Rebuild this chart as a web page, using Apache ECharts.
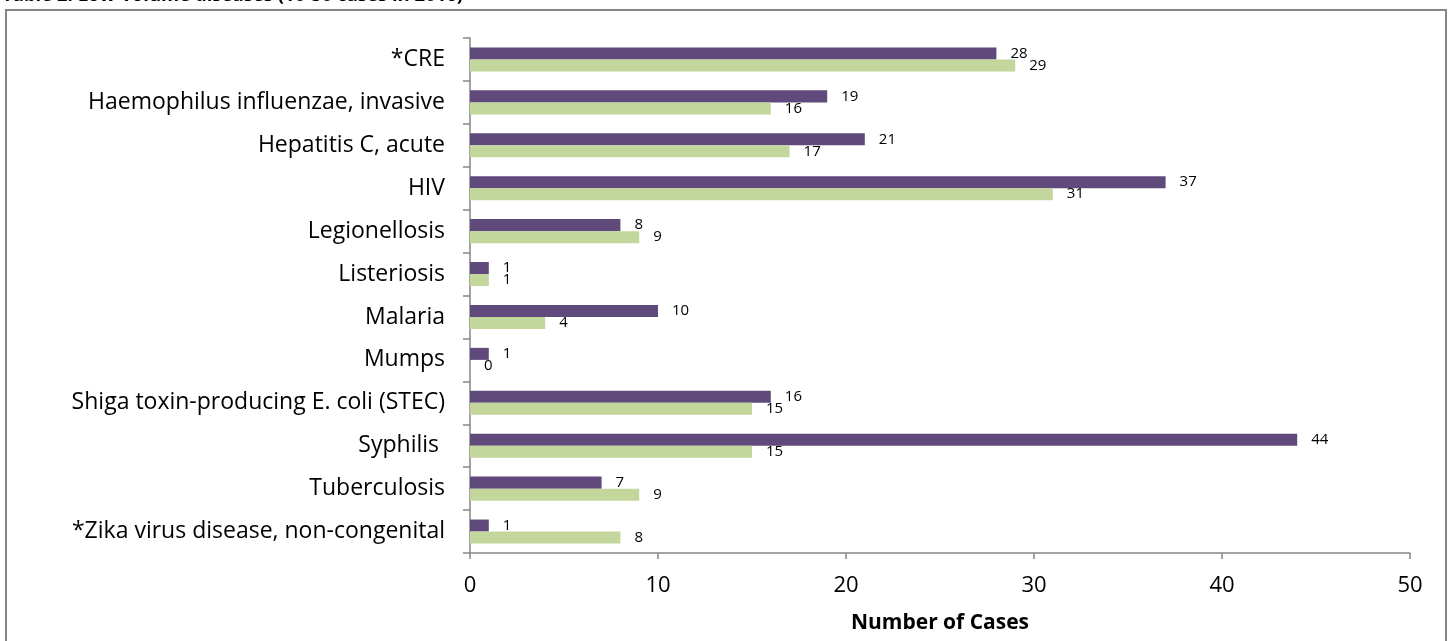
<!DOCTYPE html>
<html>
<head>
<meta charset="utf-8">
<script src="https://cdn.jsdelivr.net/npm/echarts@6/dist/echarts.min.js"></script>
<style>
  html, body { margin: 0; padding: 0; background: #fff; }
  #chart { width: 1450px; height: 641px; }
</style>
</head>
<body>
<div id="chart"></div>
<script>
// categories top to bottom
const diseases = [
  '*CRE',
  'Haemophilus influenzae, invasive',
  'Hepatitis C, acute',
  'HIV',
  'Legionellosis',
  'Listeriosis',
  'Malaria',
  'Mumps',
  'Shiga toxin-producing E. coli (STEC)',
  'Syphilis ',
  'Tuberculosis',
  '*Zika virus disease, non-congenital'
]
const casesPurple = [28, 19, 21, 37, 8, 1, 10, 1, 16, 44, 7, 1]
const casesGreen = [29, 16, 17, 31, 9, 1, 4, 0, 15, 15, 9, 8]
const xTicks = [0, 10, 20, 30, 40, 50]

const font = 'Open Sans'
const axisGray = '#868686'

const chart = echarts.init(document.getElementById('chart'))

function barLabel() {
  return {
    show: true,
    position: 'right',
    distance: 14,
    color: '#000',
    fontFamily: font,
    fontSize: 15
  }
}

const option = {
  animation: false,
  backgroundColor: '#fff',
  graphic: [
    {
      type: 'rect',
      shape: { x: 6, y: 10, width: 1440, height: 640 },
      style: { fill: 'none', stroke: axisGray, lineWidth: 2 },
      silent: true
    },
    {
      type: 'text',
      left: 2,
      top: -14,
      style: {
        text: 'Table 2: Low-volume diseases (10-50 cases in 2016)',
        fontFamily: font,
        fontWeight: 'bold',
        fontSize: 18.5,
        fill: '#000'
      }
    }
  ],
  grid: { left: 470, right: 40, top: 38, bottom: 88 },
  xAxis: {
    type: 'value',
    min: 0,
    max: 50,
    interval: xTicks[1] - xTicks[0],
    splitLine: { show: false },
    axisLine: { show: true, lineStyle: { color: axisGray, width: 1.5 } },
    axisTick: { show: true, length: 6, lineStyle: { color: axisGray, width: 1.5 } },
    axisLabel: { color: '#000', fontFamily: font, fontSize: 22, margin: 22 },
    name: 'Number of Cases',
    nameLocation: 'middle',
    nameGap: 60,
    nameTextStyle: { color: '#000', fontFamily: font, fontSize: 21, fontWeight: 'bold' }
  },
  yAxis: {
    type: 'category',
    data: diseases,
    inverse: true,
    axisLine: { show: true, lineStyle: { color: axisGray, width: 1.5 } },
    axisTick: { show: true, length: 7, alignWithLabel: false, lineStyle: { color: axisGray, width: 1.5 } },
    axisLabel: { color: '#000', fontFamily: font, fontSize: 23, margin: 25 }
  },
  series: [
    {
      name: '2016',
      type: 'bar',
      data: casesPurple,
      barGap: '0%',
      barCategoryGap: '44%',
      itemStyle: { color: '#604a7b' },
      label: barLabel()
    },
    {
      name: '2015',
      type: 'bar',
      data: casesGreen,
      itemStyle: { color: '#c3d69b' },
      label: barLabel()
    }
  ]
}

chart.setOption(option)
</script>
</body>
</html>
